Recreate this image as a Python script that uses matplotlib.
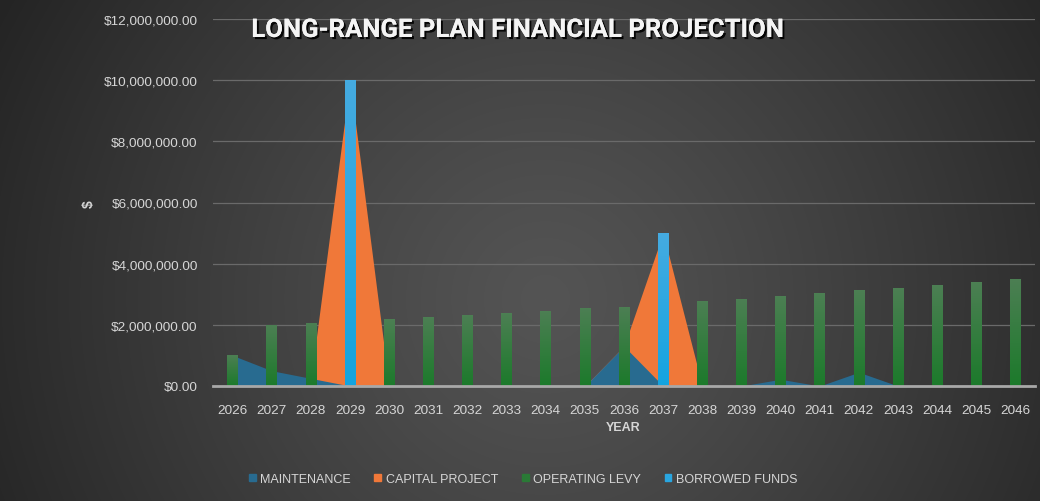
import numpy as np
import matplotlib
matplotlib.use("Agg")
import matplotlib.pyplot as plt
import matplotlib.patheffects as pe
from matplotlib.patches import Patch
from matplotlib.ticker import FuncFormatter

years = [str(y) for y in range(2026, 2047)]

maintenance = [1000000, 500000, 250000, 0, 0, 0, 0, 0, 0, 0, 1300000,
               0, 0, 0, 220000, 0, 450000, 0, 0, 0, 0]
capital_project = [0, 0, 200000, 10000000, 0, 0, 0, 0, 0, 0, 1300000,
                   5000000, 0, 0, 0, 0, 0, 0, 0, 0, 0]
operating_levy = [1000000, 1970000, 2030000, 0, 2170000, 2230000, 2300000,
                  2360000, 2430000, 2530000, 2580000, 0, 2750000, 2820000,
                  2920000, 3020000, 3110000, 3180000, 3280000, 3380000, 3480000]
borrowed_funds = [0, 0, 0, 10000000, 0, 0, 0, 0, 0, 0, 0,
                  5000000, 0, 0, 0, 0, 0, 0, 0, 0, 0]

C_MAINT = '#286b90'
C_CAP = '#f07839'
C_LEVY_TOP, C_LEVY_BOT = '#4c7f53', '#1c7a2b'
C_BORR_TOP, C_BORR_BOT = '#45abe1', '#14a4df'
TXT = '#d6d6d6'

fig = plt.figure(figsize=(10.4, 5.02), dpi=100)

# radial gradient background
bg = fig.add_axes([0, 0, 1, 1], zorder=-10)
yy, xx = np.mgrid[0:502, 0:1040]
r = np.sqrt((xx - 545) ** 2 + (yy - 300) ** 2) / 620
r = np.clip(r, 0, 1)
shade = (84 - 48 * r ** 1.2) / 255
bg.imshow(np.dstack([shade, shade, shade]), extent=(0, 1, 0, 1), aspect='auto')
bg.axis('off')

ax = fig.add_axes([213 / 1040, 1 - 387 / 502, (1035 - 213) / 1040, (387 - 20) / 502])
ax.set_facecolor('none')
x = np.arange(len(years))

# areas: capital project behind maintenance
ax.fill_between(x, capital_project, color=C_CAP, lw=0, zorder=2)
ax.fill_between(x, maintenance, color=C_MAINT, lw=0, zorder=3)


def grad_bars(vals, top, bot, z, w=0.27):
    c1 = np.array(matplotlib.colors.to_rgb(top))
    c2 = np.array(matplotlib.colors.to_rgb(bot))
    t = np.linspace(0, 1, 64)[:, None]
    img = (c1 * (1 - t) + c2 * t)[:, None, :]
    for i, v in enumerate(vals):
        if v <= 0:
            continue
        ax.imshow(img, extent=(i - w / 2, i + w / 2, 0, v), aspect='auto',
                  interpolation='bilinear', zorder=z)


grad_bars(operating_levy, C_LEVY_TOP, C_LEVY_BOT, 4)
grad_bars(borrowed_funds, C_BORR_TOP, C_BORR_BOT, 5)

ax.set_xlim(-0.5, len(years) - 0.5)
ax.set_ylim(0, 12000000)
ax.set_yticks(np.arange(0, 12000001, 2000000))
ax.yaxis.set_major_formatter(FuncFormatter(lambda v, p: '${:,.2f}'.format(v)))
ax.set_xticks(x)
ax.set_xticklabels(years)
ax.grid(axis='y', color='#6a6a6a', lw=0.9, zorder=0)
ax.set_axisbelow(True)
for s in ['top', 'right', 'left']:
    ax.spines[s].set_visible(False)
ax.spines['bottom'].set_color('#a8a8a8')
ax.spines['bottom'].set_linewidth(2)
ax.spines['bottom'].set_zorder(6)
ax.tick_params(axis='both', length=0, colors=TXT)
ax.tick_params(axis='y', pad=11, labelsize=9.7)
ax.tick_params(axis='x', pad=13, labelsize=9.7)
for lb in ax.get_xticklabels() + ax.get_yticklabels():
    lb.set_fontfamily('Liberation Sans')

fig.text(623 / 1040, 1 - 428 / 502, 'YEAR', color=TXT, fontsize=9,
         fontweight='bold', ha='center', va='center', family='Liberation Sans')
fig.text(89 / 1040, 1 - 204 / 502, '$', color=TXT, fontsize=10, rotation=90,
         fontweight='bold', ha='center', va='center', family='Liberation Sans')

fig.text(518 / 1040, 1 - 38 / 502, 'LONG-RANGE PLAN FINANCIAL PROJECTION',
         color='#f4f4f4', fontsize=18.5, fontweight='bold', family='Roboto',
         ha='center', va='baseline',
         path_effects=[pe.withSimplePatchShadow(offset=(1.5, -1.5),
                                                shadow_rgbFace='black', alpha=0.9),
                       pe.Normal()])

handles = [Patch(color=C_MAINT), Patch(color=C_CAP),
           Patch(color='#2a7a36'), Patch(color='#29a6e0')]
labels = ['MAINTENANCE', 'CAPITAL PROJECT', 'OPERATING LEVY', 'BORROWED FUNDS']
leg = fig.legend(handles, labels, loc='center', bbox_to_anchor=(523 / 1040, 1 - 480 / 502),
                 ncol=4, frameon=False, handlelength=0.55, handleheight=0.55,
                 handletextpad=0.35, columnspacing=1.9,
                 prop={'family': 'Liberation Sans', 'size': 9})
for t in leg.get_texts():
    t.set_color(TXT)

fig.savefig('out.png', dpi=100)
